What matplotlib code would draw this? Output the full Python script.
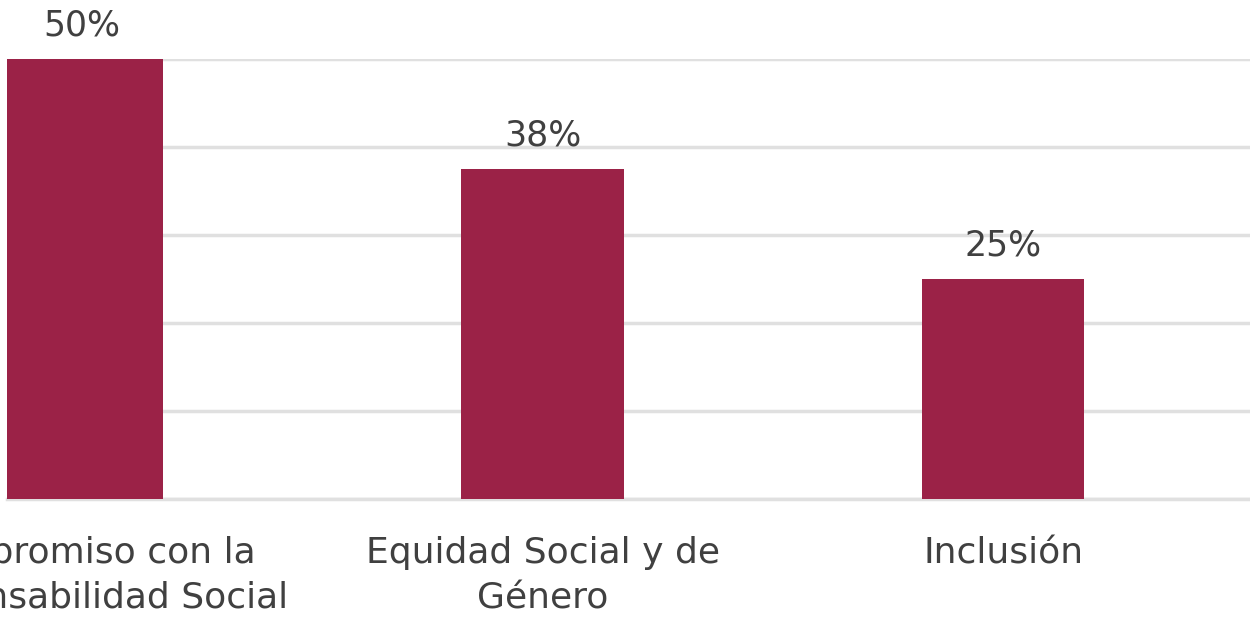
import matplotlib.pyplot as plt

categories = ["Compromiso con la\nResponsabilidad Social", "Equidad Social y de\nGénero", "Inclusión"]
values = [50, 37.5, 25]
value_labels = ["50%", "38%", "25%"]

bar_color = "#9B2247"
text_color = "#404040"
grid_color = "#E0E0E0"

fig = plt.figure(figsize=(12.5, 6.18), dpi=100)
ax = fig.add_axes([7 / 1250, 119 / 618, 1243 / 1250, 440 / 618])

x = range(len(categories))
bars = ax.bar(x, values, width=0.353, color=bar_color, zorder=3)

for b, lab in zip(bars, value_labels):
    ax.annotate(lab, (b.get_x() + b.get_width() / 2, b.get_height()),
                xytext=(0, 12), textcoords="offset points",
                ha="center", va="bottom", fontsize=25, color=text_color,
                annotation_clip=False)

ax.set_xlim(-0.163, 2.536)
ax.set_ylim(0, 50)
ax.set_yticks([0, 10, 20, 30, 40, 50])
ax.yaxis.grid(True, color=grid_color, linewidth=2.5, zorder=0)
ax.tick_params(axis="y", left=False, labelleft=False)
ax.set_xticks(list(x))
ax.set_xticklabels(categories, fontsize=26, color=text_color, linespacing=1.4)
ax.tick_params(axis="x", length=0, pad=27)

for s in ["top", "right", "left"]:
    ax.spines[s].set_visible(False)
ax.spines["bottom"].set_color(grid_color)
ax.spines["bottom"].set_linewidth(2.5)

plt.savefig("out.png", dpi=100)
